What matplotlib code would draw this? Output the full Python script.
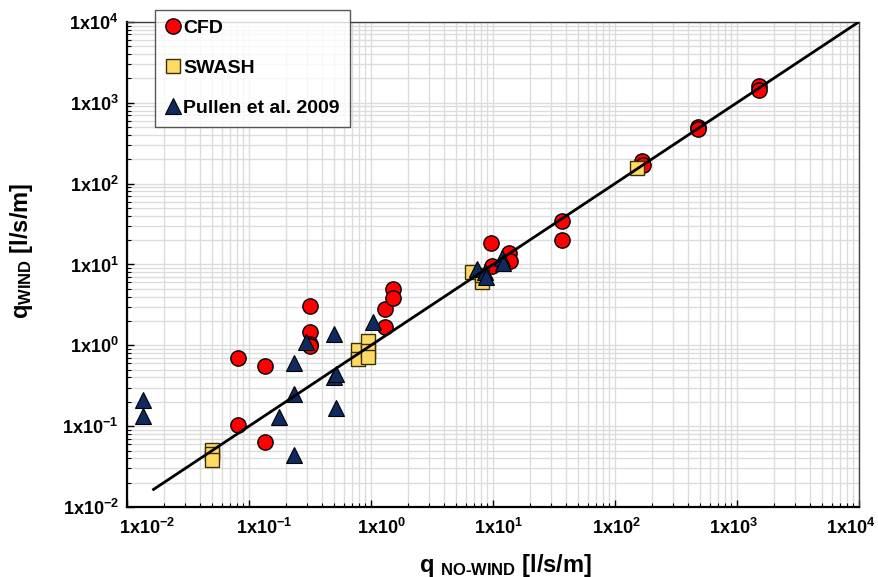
'''wind effect on overtopping discharge'''

import math
import matplotlib
matplotlib.use('Agg')
import matplotlib.pyplot as plt
import matplotlib.transforms as mtransforms
from matplotlib.ticker import LogLocator, FuncFormatter, NullFormatter

plt.rcParams['font.family'] = ['Liberation Sans', 'DejaVu Sans']
plt.rcParams['font.weight'] = 'bold'
plt.rcParams['mathtext.fontset'] = 'custom'
plt.rcParams['mathtext.rm'] = 'Liberation Sans:bold'
plt.rcParams['mathtext.it'] = 'Liberation Sans:bold'
plt.rcParams['mathtext.bf'] = 'Liberation Sans:bold'

# CFD results
cfd_x = [0.081, 0.135, 0.081, 0.135, 0.316, 0.316, 0.316, 0.316, 1.30, 1.30, 1.51, 1.51,
         9.6, 13.5, 13.8, 9.8, 36.8, 36.8, 166, 170, 478, 478, 1510, 1510]
cfd_y = [0.70, 0.55, 0.104, 0.064, 3.1, 1.45, 1.05, 0.97, 1.7, 2.8, 5.0, 3.8,
         18.5, 14.0, 11.0, 9.6, 34, 20, 190, 170, 505, 470, 1620, 1450]

# SWASH results
swash_x = [0.0497, 0.0497, 0.0497, 0.78, 0.78, 0.94, 0.94, 0.94, 6.7, 8.1, 8.2, 151]
swash_y = [0.051, 0.045, 0.038, 0.88, 0.68, 1.12, 0.85, 0.72, 8.1, 6.0, 7.5, 157]

# Pullen et al. 2009
pullen_x = [0.0135, 0.0135, 0.176, 0.234, 0.234, 0.234, 0.293, 0.50, 0.50, 0.52, 0.52,
            1.04, 7.4, 8.6, 8.7, 11.9, 12.2]
pullen_y = [0.21, 0.134, 0.13, 0.60, 0.25, 0.044, 1.10, 1.40, 0.41, 0.44, 0.17,
            1.95, 8.8, 8.0, 7.0, 12.1, 10.5]

# 1:1 line
line_x = [0.0165, 10000]
line_y = [0.0165, 10000]

fig = plt.figure(figsize=(8.79, 5.77), dpi=100)
ax = fig.add_axes([0.1445, 0.1213, 0.8325, 0.8407])

ax.plot(cfd_x, cfd_y, 'o', ms=11, mfc='#ff0000', mec='black', mew=1.0, label='CFD', zorder=3)
ax.plot(swash_x, swash_y, 's', ms=10, mfc='#ffd966', mec='#3a3000', mew=1.0, label='SWASH', zorder=4)
ax.plot(pullen_x, pullen_y, '^', ms=11, mfc='#0f2a5e', mec='black', mew=0.8,
        label='Pullen et al. 2009', zorder=5)
ax.plot(line_x, line_y, '-', color='black', lw=2.0, zorder=6)

ax.set_xscale('log')
ax.set_yscale('log')
ax.set_xlim(0.01, 10000)
ax.set_ylim(0.01, 10000)


def sci(v, pos):
    e = int(round(math.log10(v)))
    return '1x10$^{%d}$' % e


for axis in (ax.xaxis, ax.yaxis):
    axis.set_major_locator(LogLocator(base=10, numticks=20))
    axis.set_minor_locator(LogLocator(base=10, subs=range(2, 10), numticks=20))
    axis.set_major_formatter(FuncFormatter(sci))
    axis.set_minor_formatter(NullFormatter())

ax.tick_params(which='both', direction='in', top=False, right=False, labelsize=13)
ax.tick_params(which='major', length=5, width=1)
ax.tick_params(which='minor', length=3, width=0.8)
ax.tick_params(axis='x', pad=8)
ax.tick_params(axis='y', pad=6)

ax.grid(True, which='both', color='#dcdcdc', lw=1.0, zorder=0)
ax.set_axisbelow(True)

for s in ('left', 'bottom'):
    ax.spines[s].set_color('black')
    ax.spines[s].set_linewidth(1.6)
for s in ('top', 'right'):
    ax.spines[s].set_color('#404040')
    ax.spines[s].set_linewidth(1.0)

ax.set_xlabel('q $_{\\mathregular{NO\\text{-}WIND}}$ [l/s/m]', fontsize=17, fontweight='bold')
ax.set_ylabel('q$_{\\mathregular{WIND}}$ [l/s/m]', fontsize=17, fontweight='bold')
ax.xaxis.set_label_coords(0.517, -0.092)
ax.yaxis.set_label_coords(-0.126, 0.528)

leg = fig.legend(loc='upper left', bbox_to_anchor=(0.1765, 0.983), fontsize=14,
                 frameon=True, fancybox=False, labelspacing=1.15, handletextpad=0.15,
                 handlelength=0.8, borderpad=0.5, borderaxespad=0)
leg.get_frame().set_edgecolor('#303030')
leg.get_frame().set_linewidth(1.0)
leg.set_zorder(10)

# x tick labels sit slightly off their ticks in the original (spread a bit narrower)
fig.canvas.draw()
for tick, loc in zip(ax.xaxis.get_major_ticks(), ax.xaxis.get_majorticklocs()):
    i = math.log10(loc) + 2
    dx = 20 - 4.7 * i
    off = mtransforms.ScaledTranslation(dx / 100, 0, fig.dpi_scale_trans)
    tick.label1.set_transform(tick.label1.get_transform() + off)

fig.savefig('out.png', dpi=100)
